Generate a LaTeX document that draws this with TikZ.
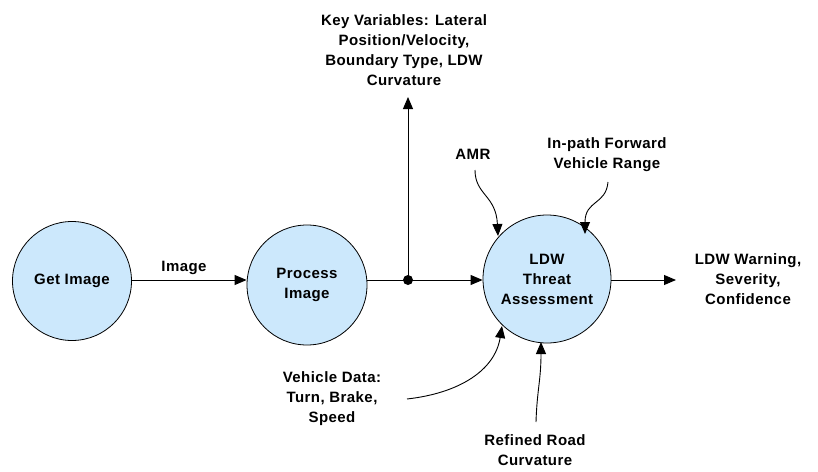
\documentclass[tikz,border=0pt]{standalone}
\usepackage{fontspec}
\setmainfont[LetterSpace=3]{Liberation Sans}
\usetikzlibrary{arrows.meta}
\definecolor{bubble}{RGB}{204,232,252}
\begin{document}
\begin{tikzpicture}[x=1pt,y=-1pt,
  proc/.style={circle,draw=black,line width=0.8pt,fill=bubble,minimum size=#1,inner sep=0pt,
    align=center,font=\fontsize{15}{20}\selectfont\bfseries},
  lbl/.style={align=center,font=\fontsize{15}{20}\selectfont\bfseries,inner sep=0pt},
  flow/.style={line width=0.9pt,-{Triangle[length=12pt,width=10pt]}},
  wire/.style={line width=0.9pt}]
\useasboundingbox (0,0) rectangle (818,471);

% processes
\node[proc=119pt] (get) at (72,281) {Get Image};
\node[proc=120pt] (proc) at (307,285) {Process\\Image};
\node[proc=128pt] (ldw) at (547,279) {LDW\\Threat\\Assessment};

% data labels
\node[lbl] (img) at (184,268) {Image};
\node[lbl] (keyv) at (404,50) {Key Variables: Lateral\\Position/Velocity,\\Boundary Type, LDW\\Curvature};
\node[lbl] (amr) at (473,154) {AMR};
\node[lbl] (ipf) at (607,155) {In-path Forward\\Vehicle Range};
\node[lbl] (warn) at (748,279) {LDW Warning,\\Severity,\\Confidence};
\node[lbl] (veh) at (332,399) {Vehicle Data:\\Turn, Brake,\\Speed};
\node[lbl] (road) at (535,450) {Refined Road\\Curvature};

% junction after image processing
\coordinate (jn) at (408,280);
\fill (jn) circle (5pt);

% connectors
\draw[flow] (get.east |- 0,280) -- (proc.west |- 0,280);
\draw[wire] (proc.east |- 0,280) -- (jn);
\draw[flow] (jn) -- (ldw.west |- 0,280);
\draw[flow] (jn) -- (408,97) coordinate (keytip);
\draw[flow] (ldw.east |- 0,280) -- (676,280) coordinate (warntip);

\coordinate (amrs) at (475,170);
\draw[flow] (amrs) .. controls (475,195) and (496,195) .. (498,236);
\coordinate (ipfs) at (608,182);
\draw[flow] (ipfs) .. controls (606,205) and (585,200) .. (585,234);
\coordinate (vehs) at (407,399);
\draw[flow] (vehs) .. controls (460,393) and (495,370) .. (502,326);
\coordinate (roads) at (536,422);
\draw[flow] (roads) .. controls (537,390) and (541,380) .. (541,342);
\end{tikzpicture}
\end{document}
